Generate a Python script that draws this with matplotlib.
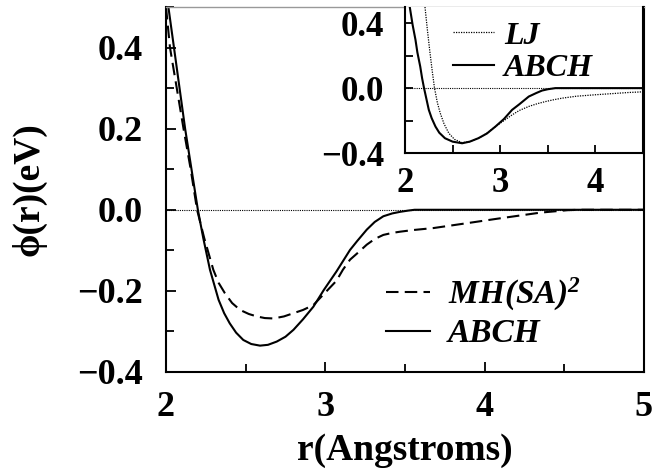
import matplotlib
matplotlib.use("Agg")
import matplotlib.pyplot as plt
from matplotlib.ticker import MultipleLocator

plt.rcParams["font.family"] = ["Liberation Serif", "DejaVu Serif"]
plt.rcParams["font.weight"] = "bold"
plt.rcParams["axes.labelweight"] = "bold"
plt.rcParams["mathtext.fontset"] = "custom"
plt.rcParams["mathtext.it"] = "Liberation Serif:italic:bold"
plt.rcParams["mathtext.rm"] = "Liberation Serif:italic:bold"

# main panel: ABCH (solid) and MH(SA)^2 (dashed)
abch_r = [2.015, 2.05, 2.12, 2.16, 2.20, 2.234, 2.276, 2.33, 2.365, 2.40, 2.44,
          2.485, 2.535, 2.59, 2.64, 2.695, 2.75, 2.80, 2.86, 2.925, 2.99, 3.07,
          3.155, 3.20, 3.26, 3.31, 3.364, 3.42, 3.47, 3.52, 3.56, 4.0, 5.0]
abch_v = [0.5, 0.4, 0.2, 0.1, 0.0, -0.07, -0.148, -0.222, -0.255, -0.28, -0.303,
          -0.321, -0.331, -0.335, -0.333, -0.325, -0.313, -0.296, -0.27, -0.239,
          -0.198, -0.152, -0.099, -0.077, -0.049, -0.03, -0.016, -0.009, -0.005,
          -0.002, 0.0, 0.0, 0.0]

mh_r = [2.0, 2.025, 2.11, 2.155, 2.195, 2.24, 2.297, 2.33, 2.37, 2.415, 2.465,
        2.52, 2.57, 2.62, 2.674, 2.74, 2.80, 2.86, 2.925, 2.99, 3.07, 3.11, 3.155,
        3.21, 3.26, 3.31, 3.364, 3.42, 3.47, 3.55, 3.68, 3.89, 4.08, 4.35, 4.52,
        4.6, 5.0]
mh_v = [0.5, 0.4, 0.2, 0.1, 0.0, -0.07, -0.148, -0.18, -0.206, -0.23, -0.247,
        -0.257, -0.263, -0.267, -0.268, -0.263, -0.255, -0.247, -0.235, -0.208,
        -0.175, -0.148, -0.123, -0.104, -0.086, -0.072, -0.062, -0.057, -0.054,
        -0.05, -0.045, -0.033, -0.022, -0.007, -0.001, 0.0, 0.0]

# inset: LJ (dotted) and ABCH (solid)
in_abch_r = [2.05, 2.08, 2.11, 2.13, 2.16, 2.18, 2.20, 2.25, 2.28, 2.32, 2.36,
             2.42, 2.50, 2.60, 2.68, 2.77, 2.86, 2.95, 3.04, 3.125, 3.20, 3.30,
             3.38, 3.44, 3.50, 3.58, 4.5]
in_abch_v = [0.50, 0.39, 0.298, 0.22, 0.133, 0.06, 0.0, -0.134, -0.185, -0.237,
             -0.275, -0.309, -0.33, -0.34, -0.33, -0.309, -0.28, -0.237, -0.19,
             -0.134, -0.10, -0.052, -0.03, -0.015, -0.007, 0.0, 0.0]

lj_r = [2.21, 2.235, 2.26, 2.285, 2.31, 2.34, 2.37, 2.41, 2.46, 2.52, 2.60, 2.68,
        2.77, 2.86, 2.95, 3.04, 3.125, 3.20, 3.30, 3.39, 3.475, 3.56, 3.65, 3.80,
        4.0, 4.2, 4.35, 4.5]
lj_v = [0.5, 0.36, 0.23, 0.11, 0.0, -0.09, -0.154, -0.22, -0.278, -0.316, -0.336,
        -0.33, -0.31, -0.278, -0.237, -0.20, -0.165, -0.138, -0.113, -0.096,
        -0.083, -0.072, -0.062, -0.05, -0.041, -0.033, -0.027, -0.023]

fig = plt.figure(figsize=(6.52, 4.76), dpi=100)
ax = fig.add_axes([166 / 652, 1 - 372 / 476, 478 / 652, 365 / 476])

ax.axhline(0, color="black", lw=0.8, ls=(0, (1, 1)))
ax.plot(mh_r, mh_v, color="black", lw=1.5, ls=(0, (6, 3)), label="$MH(SA)^2$")
ax.plot(abch_r, abch_v, color="black", lw=1.5, label="ABCH")

ax.set_xlim(2, 5)
ax.set_ylim(-0.4, 0.5)
ax.xaxis.set_major_locator(MultipleLocator(1))
ax.xaxis.set_minor_locator(MultipleLocator(0.5))
ax.set_yticks([-0.4, -0.2, 0.0, 0.2, 0.4])
ax.set_yticklabels(["\u22120.4", "\u22120.2", "0.0", "0.2", "0.4"])
ax.yaxis.set_minor_locator(MultipleLocator(0.1))
ax.tick_params(which="both", direction="in", top=False, right=False, width=1.3,
               labelsize=26)
ax.tick_params(which="major", length=7)
ax.tick_params(which="minor", length=6)
ax.tick_params(axis="y", pad=17)
ax.tick_params(axis="x", pad=14)
for s in ["left", "bottom", "right"]:
    ax.spines[s].set_linewidth(1.5)
ax.spines["top"].set_color("0.6")
ax.spines["top"].set_linewidth(1.0)

ax.set_xlabel("r(Angstroms)", fontsize=27, labelpad=6)
ax.set_ylabel("\u03d5(r)(eV)", fontsize=27, labelpad=22)

ax.legend(loc="lower right", bbox_to_anchor=(0.93, -0.02), frameon=False,
          handlelength=1.3, handletextpad=0.55, labelspacing=0.15,
          prop={"size": 24, "style": "italic", "weight": "bold"})

# inset
axi = fig.add_axes([405 / 652, 1 - 153 / 476, 238 / 652, 146 / 476])
axi.axhline(0, color="black", lw=0.8, ls=(0, (1, 1)))
axi.plot(lj_r, lj_v, color="black", lw=0.9, ls=(0, (1, 1)), label="LJ")
axi.plot(in_abch_r, in_abch_v, color="black", lw=1.5, label="ABCH")
axi.set_xlim(2, 4.5)
axi.set_ylim(-0.4, 0.5)
axi.xaxis.set_major_locator(MultipleLocator(1))
axi.xaxis.set_minor_locator(MultipleLocator(0.5))
axi.set_yticks([-0.4, 0.0, 0.4])
axi.set_yticklabels(["\u22120.4", "0.0", "0.4"])
axi.yaxis.set_minor_locator(MultipleLocator(0.2))
axi.tick_params(which="both", direction="in", top=False, right=False, width=1.3,
                labelsize=25, length=6)
axi.tick_params(axis="y", pad=15)
axi.tick_params(axis="x", pad=10)
axi.spines["top"].set_visible(False)
for s in ["left", "bottom", "right"]:
    axi.spines[s].set_linewidth(1.5)
axi.legend(loc="upper left", bbox_to_anchor=(0.08, 1.10), frameon=False,
           handlelength=1.3, handletextpad=0.3, labelspacing=0.1,
           prop={"size": 23, "style": "italic", "weight": "bold"})

fig.savefig("out.png", dpi=100)
